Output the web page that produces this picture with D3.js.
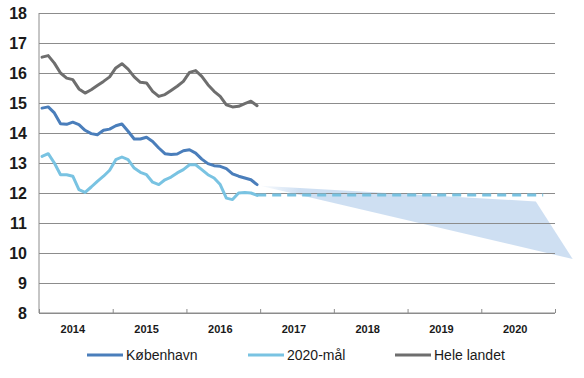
<!DOCTYPE html>
<html>
<head>
<meta charset="utf-8">
<script src="https://cdn.jsdelivr.net/npm/d3@7"></script>
<style>
  body { margin: 0; background: #fff; }
  svg { font-family: Arial, "Liberation Sans", sans-serif; }
</style>
</head>
<body>
<div id="chart"></div>
<script>
var svgWidth = 584;
var svgHeight = 378;

var margin = { top: 13, right: 29, bottom: 65, left: 39 };
var width = svgWidth - margin.left - margin.right;
var height = svgHeight - margin.top - margin.bottom;

// monthly values Jan 2014 - Dec 2016
var kobenhavn = [14.83, 14.87, 14.67, 14.31, 14.29, 14.36, 14.28, 14.09, 13.98, 13.94, 14.09, 14.13,
                 14.24, 14.30, 14.06, 13.80, 13.80, 13.86, 13.72, 13.50, 13.31, 13.28, 13.30, 13.41,
                 13.44, 13.33, 13.13, 12.98, 12.91, 12.89, 12.81, 12.64, 12.56, 12.50, 12.44, 12.28];
var maal2020 = [13.22, 13.31, 13.00, 12.61, 12.61, 12.56, 12.11, 12.02, 12.20, 12.39, 12.56, 12.76,
                13.11, 13.20, 13.11, 12.83, 12.69, 12.61, 12.36, 12.28, 12.44, 12.53, 12.67, 12.78,
                12.94, 12.94, 12.78, 12.61, 12.50, 12.28, 11.83, 11.78, 12.00, 12.02, 12.00, 11.92];
var heleLandet = [16.53, 16.58, 16.33, 16.00, 15.83, 15.78, 15.47, 15.33, 15.44, 15.58, 15.72, 15.87,
                  16.17, 16.31, 16.13, 15.87, 15.69, 15.67, 15.39, 15.22, 15.28, 15.42, 15.56, 15.72,
                  16.02, 16.08, 15.89, 15.61, 15.39, 15.22, 14.94, 14.87, 14.89, 14.98, 15.06, 14.91];

// 2020 target projection (dashed) and the projection funnel
var maalProjT = [2016.96, 2020.84];
var maalProjV = [11.93, 11.93];
var funnelT = [2017.0, 2020.74, 2021.24];
var funnelV = [12.24, 11.72, 9.80];

var years = [2014, 2015, 2016, 2017, 2018, 2019, 2020];
var yTicks = [8, 9, 10, 11, 12, 13, 14, 15, 16, 17, 18];

var series = [
  { name: "København", values: kobenhavn, color: "#4a7ebb" },
  { name: "2020-mål", values: maal2020, color: "#79c3e2" },
  { name: "Hele landet", values: heleLandet, color: "#6e6e6e" }
];

var svg = d3.select("#chart")
  .append("svg")
  .attr("width", svgWidth)
  .attr("height", svgHeight);

var chartGroup = svg.append("g")
  .attr("transform", `translate(${margin.left}, ${margin.top})`);

var x = d3.scaleLinear().domain([2014, 2021]).range([0, width]);
var y = d3.scaleLinear().domain([8, 18]).range([height, 0]);

function monthT(i) { return 2014 + (i + 0.5) / 12; }

// funnel gradient
var defs = svg.append("defs");
var grad = defs.append("linearGradient")
  .attr("id", "fade")
  .attr("gradientUnits", "userSpaceOnUse")
  .attr("x1", x(2017.0)).attr("x2", x(2017.55))
  .attr("y1", 0).attr("y2", 0);
grad.append("stop").attr("offset", "0").attr("stop-color", "#cedff2").attr("stop-opacity", 0.1);
grad.append("stop").attr("offset", "1").attr("stop-color", "#cedff2").attr("stop-opacity", 1);

chartGroup.append("path")
  .datum(d3.range(funnelT.length))
  .attr("d", d3.line().x(i => x(funnelT[i])).y(i => y(funnelV[i])))
  .attr("fill", "url(#fade)")
  .attr("stroke", "none");

// gridlines + y labels
var leftAxis = d3.axisLeft(y).tickValues(yTicks).tickSize(-width).tickPadding(12).tickFormat(d3.format("d"));
var yAxisG = chartGroup.append("g").call(leftAxis);
yAxisG.select(".domain").remove();
yAxisG.selectAll(".tick line").attr("stroke", "#8c8c8c").attr("stroke-width", 1);
yAxisG.selectAll(".tick text")
  .attr("font-size", 16).attr("font-weight", "bold").attr("fill", "#1a1a1a");

// left axis line
chartGroup.append("line")
  .attr("x1", 0).attr("x2", 0).attr("y1", 0).attr("y2", height)
  .attr("stroke", "#8c8c8c");

// bottom axis with inner ticks
var bottomAxis = d3.axisBottom(x).tickValues(years.concat([2021])).tickSize(-4).tickFormat("");
var xAxisG = chartGroup.append("g")
  .attr("transform", `translate(0, ${height})`)
  .call(bottomAxis);
xAxisG.select(".domain").attr("stroke", "#8c8c8c").attr("d", `M0,0H${width}`);
xAxisG.selectAll(".tick line").attr("stroke", "#8c8c8c");

chartGroup.selectAll(".yearLabel")
  .data(years)
  .enter()
  .append("text")
  .attr("class", "yearLabel")
  .attr("x", d => x(d + 0.5) - 3)
  .attr("y", height + 20)
  .attr("text-anchor", "middle")
  .attr("font-size", 11)
  .attr("font-weight", "bold")
  .attr("fill", "#1a1a1a")
  .text(d => d);

// dashed target projection
chartGroup.append("path")
  .datum(d3.range(maalProjT.length))
  .attr("d", d3.line().x(i => x(maalProjT[i])).y(i => y(maalProjV[i])))
  .attr("fill", "none")
  .attr("stroke", "#79c3e2")
  .attr("stroke-width", 3)
  .attr("stroke-dasharray", "9,6");

// data lines
var line = d3.line().x((d, i) => x(monthT(i))).y(d => y(d));
series.forEach(function(s) {
  chartGroup.append("path")
    .datum(s.values)
    .attr("d", line)
    .attr("fill", "none")
    .attr("stroke", s.color)
    .attr("stroke-width", 3)
    .attr("stroke-linejoin", "round")
    .attr("stroke-linecap", "round");
});

// legend
var legendX = [87, 248, 395];
var legend = svg.append("g");
series.forEach(function(s, i) {
  legend.append("line")
    .attr("x1", legendX[i]).attr("x2", legendX[i] + 36)
    .attr("y1", 355).attr("y2", 355)
    .attr("stroke", s.color).attr("stroke-width", 3);
  legend.append("text")
    .attr("x", legendX[i] + 39)
    .attr("y", 360)
    .attr("font-size", 14)
    .attr("fill", "#1a1a1a")
    .text(s.name);
});
</script>
</body>
</html>
